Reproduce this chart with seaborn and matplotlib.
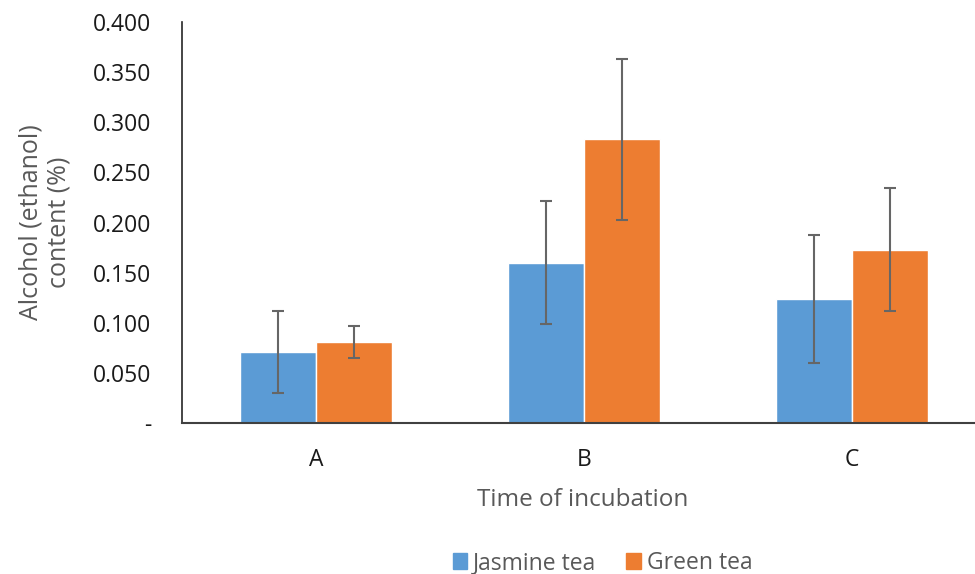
import matplotlib

matplotlib.use("Agg")

import matplotlib.pyplot as plt
import pandas as pd
import seaborn as sns

times = ["A", "B", "C"]
teas = ["Jasmine tea", "Green tea"]
jasmine_mean = [0.071, 0.160, 0.124]
jasmine_err = [0.041, 0.061, 0.064]
green_mean = [0.081, 0.283, 0.173]
green_err = [0.016, 0.080, 0.061]
y_ticks = [0, 0.05, 0.10, 0.15, 0.20, 0.25, 0.30, 0.35, 0.40]

df = pd.DataFrame({
    "time": times * 2,
    "tea": [teas[0]] * 3 + [teas[1]] * 3,
    "alcohol": jasmine_mean + green_mean,
    "err": jasmine_err + green_err,
})

sns.set_theme(style="white")
plt.rcParams["font.family"] = ["Open Sans", "DejaVu Sans"]

fig = plt.figure(figsize=(9.75, 5.74), dpi=100)
ax = fig.add_axes([0.1867, 0.263, 0.8133, 0.6986])

palette = {"Jasmine tea": "#5B9BD5", "Green tea": "#ED7D31"}
sns.barplot(data=df, x="time", y="alcohol", hue="tea", hue_order=teas, order=times,
            palette=palette, width=0.567, gap=0, saturation=1, errorbar=None,
            legend=False, ax=ax)

# error bars placed on bar centres from seaborn's patches
for container, tea in zip(ax.containers, teas):
    sub = df[df["tea"] == tea].set_index("time").loc[times]
    xs = [p.get_x() + p.get_width() / 2 for p in container.patches]
    ax.errorbar(xs, sub["alcohol"], yerr=sub["err"], fmt="none", ecolor="#666666",
                elinewidth=1.5, capsize=4.5, capthick=1.5)

ax.set_ylim(0, 0.4)
ax.set_xlim(-0.5, 2.46)
ax.set_yticks(y_ticks)
ax.set_yticklabels(["-"] + [f"{v:.3f}" for v in y_ticks[1:]])
ax.tick_params(axis="both", length=0, labelsize=16.5, labelcolor="#1a1a1a")
ax.tick_params(axis="x", pad=18)
ax.tick_params(axis="y", pad=22)

for side in ["top", "right"]:
    ax.spines[side].set_visible(False)
ax.spines["left"].set_color("#262626")
ax.spines["left"].set_linewidth(1.2)
ax.spines["bottom"].set_color("#404040")
ax.spines["bottom"].set_linewidth(1.5)

ax.set_xlabel("Time of incubation", fontsize=17.5, color="#595959")
ax.xaxis.set_label_coords(0.505, -0.163)
ax.set_ylabel("Alcohol (ethanol)\ncontent (%)", fontsize=18, color="#595959",
              linespacing=1.15)
ax.yaxis.set_label_coords(-0.14, 0.5)

handles = [plt.Rectangle((0, 0), 1, 1, color=palette[t]) for t in teas]
fig.legend(handles, teas, loc="center", bbox_to_anchor=(0.618, 0.019), ncol=2, frameon=False,
           fontsize=16.5, handlelength=0.65, handleheight=0.65, handletextpad=0.25,
           columnspacing=1.3, labelcolor="#595959")

fig.savefig("out.png", dpi=100, facecolor="white")
